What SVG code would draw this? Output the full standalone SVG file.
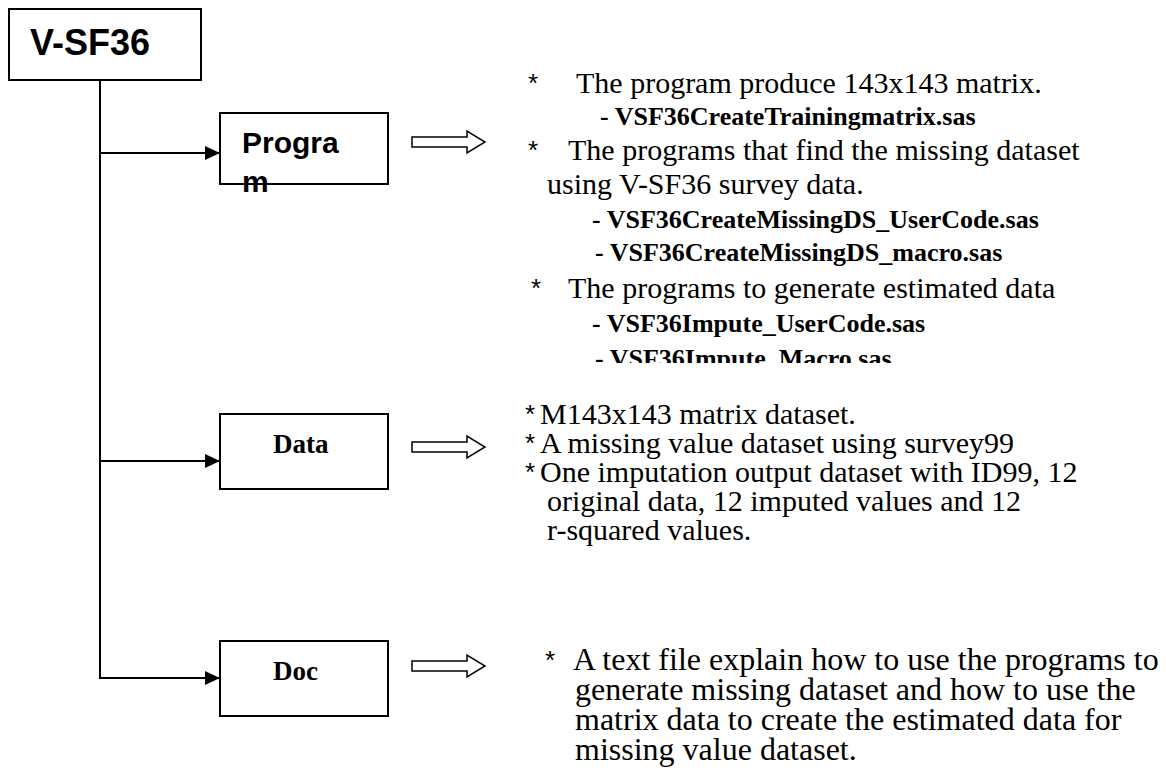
<svg xmlns="http://www.w3.org/2000/svg" width="1166" height="782" viewBox="0 0 1166 782">
<style>
.box{fill:#fff;stroke:#000;stroke-width:2}
.ln{fill:none;stroke:#000;stroke-width:2}
.blk{fill:#fff;stroke:#000;stroke-width:1.5;stroke-linejoin:miter}
.t{font-family:"Liberation Serif","Times New Roman",serif;font-size:30px;fill:#000}
.d{font-family:"Liberation Serif","Times New Roman",serif;font-size:32px;fill:#000}
.b{font-family:"Liberation Serif","Times New Roman",serif;font-size:26px;font-weight:bold;fill:#000}
.nb{font-family:"Liberation Serif","Times New Roman",serif;font-size:27px;font-weight:bold;fill:#000}
.sa{font-family:"Liberation Sans",Arial,sans-serif;font-weight:bold;fill:#000}
.st{font-family:"Liberation Sans",Arial,sans-serif;font-size:26px;fill:#000}
</style>
<defs>
<marker id="ah" markerWidth="15" markerHeight="14" refX="15" refY="7" orient="auto" markerUnits="userSpaceOnUse">
<path d="M0,0 L15,7 L0,14 Z" fill="#000"/>
</marker>
<clipPath id="pclip"><rect x="500" y="60" width="666" height="303"/></clipPath>
</defs>

<g id="connectors">
<line class="ln" x1="100" y1="80" x2="100" y2="679"/>
<line class="ln" x1="99" y1="153" x2="220" y2="153" marker-end="url(#ah)"/>
<line class="ln" x1="99" y1="461" x2="220" y2="461" marker-end="url(#ah)"/>
<line class="ln" x1="99" y1="678" x2="220" y2="678" marker-end="url(#ah)"/>
</g>

<g id="vsf36">
<rect class="box" x="9" y="9" width="192" height="71"/>
<text class="sa" x="30" y="55" font-size="36">V-SF36</text>
</g>

<g id="program">
<rect class="box" x="220" y="113" width="168" height="71"/>
<text class="sa" x="242" y="153" font-size="30">Progra</text>
<text class="sa" x="242" y="192" font-size="30">m</text>
</g>

<g id="data">
<rect class="box" x="220" y="414" width="168" height="75"/>
<text class="nb" x="273" y="453">Data</text>
</g>

<g id="doc">
<rect class="box" x="220" y="641" width="168" height="75"/>
<text class="nb" x="273" y="680">Doc</text>
</g>

<g id="program-arrow">
<polygon class="blk" points="412,137 467,137 467,131 485,142 467,153 467,147 412,147"/>
</g>
<g id="data-arrow">
<polygon class="blk" points="412,442 467,442 467,436 485,447 467,458 467,452 412,452"/>
</g>
<g id="doc-arrow">
<polygon class="blk" points="412,661 467,661 467,655 485,666 467,677 467,671 412,671"/>
</g>

<g id="program-text" clip-path="url(#pclip)">
<text class="st" x="528" y="92">*</text>
<text class="t" x="576" y="93">The program produce 143x143 matrix.</text>
<text class="b" x="600" y="125">- VSF36CreateTrainingmatrix.sas</text>
<text class="st" x="528" y="159">*</text>
<text class="t" x="568" y="160">The programs that find the missing dataset</text>
<text class="t" x="547" y="194">using V-SF36 survey data.</text>
<text class="b" x="592" y="228">- VSF36CreateMissingDS_UserCode.sas</text>
<text class="b" x="595" y="261">- VSF36CreateMissingDS_macro.sas</text>
<text class="st" x="531" y="297">*</text>
<text class="t" x="568" y="298">The programs to generate estimated data</text>
<text class="b" x="592" y="332">- VSF36Impute_UserCode.sas</text>
<text class="b" x="595" y="367">- VSF36Impute_Macro.sas</text>
</g>

<g id="data-text">
<text class="st" x="525" y="423">*</text>
<text class="t" x="540" y="424">M143x143 matrix dataset.</text>
<text class="st" x="525" y="452">*</text>
<text class="t" x="540" y="453">A missing value dataset using survey99</text>
<text class="st" x="525" y="481">*</text>
<text class="t" x="540" y="482">One imputation output dataset with ID99, 12</text>
<text class="t" x="547" y="511">original data, 12 imputed values and 12</text>
<text class="t" x="547" y="540">r-squared values.</text>
</g>

<g id="doc-text">
<text class="st" x="545" y="669">*</text>
<text class="d" x="573" y="670">A text file explain how to use the programs to</text>
<text class="d" x="575" y="700">generate missing dataset and how to use the</text>
<text class="d" x="575" y="730">matrix data to create the estimated data for</text>
<text class="d" x="575" y="760">missing value dataset.</text>
</g>
</svg>
